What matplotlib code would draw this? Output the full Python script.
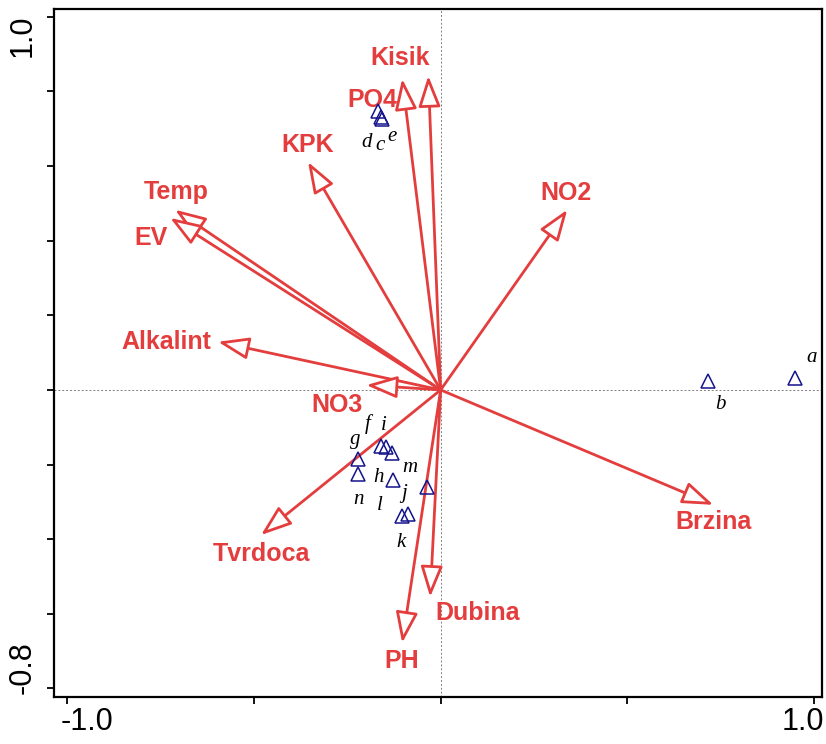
import matplotlib
matplotlib.use("Agg")
import matplotlib.pyplot as plt

plt.rcParams['font.family'] = ['Liberation Sans', 'DejaVu Sans']

# --- environmental variables (arrow tips) ---
env_names = ['Kisik', 'PO4', 'KPK', 'Temp', 'EV', 'NO2', 'Alkalint',
             'NO3', 'Brzina', 'Tvrdoca', 'Dubina', 'PH']
env_x = [-0.103, -0.033, -0.355, -0.711, -0.724, 0.339, -0.596,
         -0.199, 0.730, -0.481, -0.028, -0.103]
env_y = [0.834, 0.842, 0.611, 0.483, 0.461, 0.483, 0.129,
         0.013, -0.308, -0.389, -0.555, -0.678]

# --- samples ---
site_names = ['a', 'b', 'c', 'd', 'e', 'f', 'g', 'h', 'i', 'j', 'k', 'l', 'm', 'n']
site_x = [0.949, 0.716, -0.159, -0.167, -0.157, -0.159, -0.221,
          -0.127, -0.146, -0.036, -0.087, -0.103, -0.130, -0.221]
site_y = [0.032, 0.024, 0.732, 0.748, 0.727, -0.150, -0.185,
          -0.241, -0.153, -0.260, -0.332, -0.338, -0.169, -0.225]

RED = '#E43D3D'
NAVY = '#14148C'

# label placement (layout only)
env_label_pos = {
    'Kisik': (-0.108, 0.890), 'PO4': (-0.183, 0.777), 'KPK': (-0.355, 0.657),
    'Temp': (-0.708, 0.531), 'EV': (-0.775, 0.408), 'NO2': (0.336, 0.528),
    'Alkalint': (-0.735, 0.129), 'NO3': (-0.277, -0.040),
    'Brzina': (0.730, -0.354), 'Tvrdoca': (-0.481, -0.440),
    'Dubina': (0.098, -0.598), 'PH': (-0.103, -0.727),
}
site_label_off = {
    'a': (16, 20), 'b': (12, -24), 'c': (-1, -29), 'd': (-12, -32),
    'e': (10, -18), 'f': (-14, 22), 'g': (-3, 19), 'h': (-15, 2),
    'i': (-2, 22), 'j': (-23, -7), 'k': (-7, -29), 'l': (-22, 11),
    'm': (18, -15), 'n': (0, -26),
}

fig = plt.figure(figsize=(8.26, 7.44), dpi=100)
ax = fig.add_axes([0.0654, 0.0632, 0.9298, 0.9247])
ax.set_xlim(-1.035, 1.021)
ax.set_ylim(-0.823, 1.021)

ax.axhline(0, color='#808080', lw=0.7, ls=(0, (2, 2)), zorder=1)
ax.axvline(0, color='#808080', lw=0.7, ls=(0, (2, 2)), zorder=1)

for name, x, y in zip(env_names, env_x, env_y):
    ax.annotate('', xy=(x, y), xytext=(0, 0),
                arrowprops=dict(arrowstyle='-|>,head_length=0.95,head_width=0.34',
                                mutation_scale=20, lw=2.0, color=RED,
                                fc='white', shrinkA=0, shrinkB=0),
                zorder=3)
    lx, ly = env_label_pos[name]
    ax.text(lx, ly, name, color=RED, fontsize=18, fontweight='bold',
            ha='center', va='center', zorder=4)

ax.plot(site_x, site_y, ls='none', marker='^', ms=9.5, mfc='none',
        mec=NAVY, mew=1.1, zorder=5)
for name, x, y in zip(site_names, site_x, site_y):
    dx, dy = site_label_off[name]
    ax.annotate(name, xy=(x, y), xytext=(dx, dy), textcoords='offset pixels',
                ha='center', va='center', fontsize=15, fontstyle='italic',
                family='Liberation Serif', color='black', zorder=6)

ax.set_xticks([-1.0, -0.5, 0.0, 0.5, 1.0])
ax.set_yticks([1.0, 0.8, 0.6, 0.4, 0.2, 0.0, -0.2, -0.4, -0.6, -0.8])
ax.tick_params(direction='out', length=5, width=1.3,
               labelbottom=False, labelleft=False)
for s in ax.spines.values():
    s.set_linewidth(1.6)

# tick labels placed as in the original
ax.text(-0.946, -0.890, '-1.0', fontsize=22, ha='center', va='center', clip_on=False)
ax.text(0.971, -0.890, '1.0', fontsize=22, ha='center', va='center', clip_on=False)
ax.text(-1.120, 0.949, '1.0', fontsize=22, rotation=90, ha='center', va='center', clip_on=False)
ax.text(-1.120, -0.743, '-0.8', fontsize=22, rotation=90, ha='center', va='center', clip_on=False)

fig.savefig('out.png', dpi=100)
